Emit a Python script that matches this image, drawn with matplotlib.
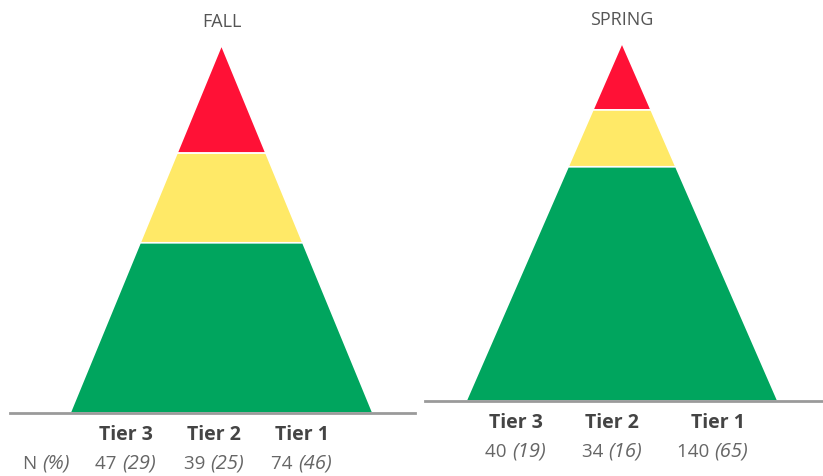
import matplotlib
matplotlib.use("Agg")
import matplotlib.pyplot as plt

plt.rcParams["font.family"] = ["Open Sans", "DejaVu Sans"]

TIERS = ["Tier 3", "Tier 2", "Tier 1"]          # top to bottom of the pyramid
COLORS = ["#FF1136", "#FFE967", "#00A55E"]
FALL_N = [47, 39, 74]
FALL_PCT = [29, 25, 46]
SPRING_N = [40, 34, 140]
SPRING_PCT = [19, 16, 65]

W, H = 823, 476
fig = plt.figure(figsize=(W / 100, H / 100), dpi=100)

FS = 13.5        # value text size
FS_IT = 14.5     # italic part looks smaller at the same size, bump it


def px_axes(x0, x1, ytop, ybase):
    # axes placed in pixel coords of the figure (origin top-left)
    return fig.add_axes([x0 / W, 1 - ybase / H, (x1 - x0) / W, (ybase - ytop) / H])


def pyramid(ax, n, pct, base_l, base_r, label_x, title, show_n_label=False):
    cx = (base_l + base_r) / 2
    half = (base_r - base_l) / 2
    total = sum(n)
    shares = [v / total * 100 for v in n]
    top = 100.0
    for share, col in zip(shares, COLORS):
        bot = top - share
        wt = half * (100 - top) / 100
        wb = half * (100 - bot) / 100
        ax.fill([cx - wt, cx + wt, cx + wb, cx - wb], [top, top, bot, bot],
                color=col, ec="white", lw=1.2)
        top = bot
    ax.set_xlim(0, 1)
    ax.set_ylim(0, 100)
    ax.axis("off")
    ax.axhline(0, color="#9a9a9a", lw=2, clip_on=False)
    ax.annotate(title, (cx, 100), xytext=(0, 10), textcoords="offset points",
                ha="center", va="bottom", fontsize=13, color="#555555",
                annotation_clip=False)
    for t, x, v, p in zip(TIERS, label_x, n, pct):
        ax.annotate(t, (x, 0), xytext=(0, -16), textcoords="offset points",
                    ha="center", va="center", fontsize=14, fontweight="bold",
                    color="#444444", annotation_clip=False)
        # number + italic share, split point nudged left so the pair is centred
        ax.annotate(f"{v} ", (x, 0), xytext=(-3, -36.5), textcoords="offset points",
                    ha="right", va="center", fontsize=FS, color="#666666",
                    annotation_clip=False)
        ax.annotate(f"({p})", (x, 0), xytext=(-3, -36.5), textcoords="offset points",
                    ha="left", va="center", fontsize=FS_IT, style="italic",
                    color="#666666", annotation_clip=False)
    if show_n_label:
        ax.annotate("N ", (0.08, 0), xytext=(0, -36.5), textcoords="offset points",
                    ha="right", va="center", fontsize=FS, color="#666666",
                    annotation_clip=False)
        ax.annotate("(%)", (0.08, 0), xytext=(0, -36.5), textcoords="offset points",
                    ha="left", va="center", fontsize=FS_IT, style="italic",
                    color="#666666", annotation_clip=False)


# FALL panel: x 10..415 px, apex y=45, base y=413
ax1 = px_axes(10, 415, 45, 413)
to1 = lambda p: (p - 10) / 405
pyramid(ax1, FALL_N, FALL_PCT, to1(70), to1(373),
        [to1(126), to1(214), to1(302)], "FALL", show_n_label=True)

# SPRING panel: x 425..822 px, apex y=43, base y=401
ax2 = px_axes(425, 822, 43, 401)
to2 = lambda p: (p - 425) / 397
pyramid(ax2, SPRING_N, SPRING_PCT, to2(466), to2(778),
        [to2(516), to2(612), to2(718)], "SPRING")

fig.savefig("out.png", dpi=100)
